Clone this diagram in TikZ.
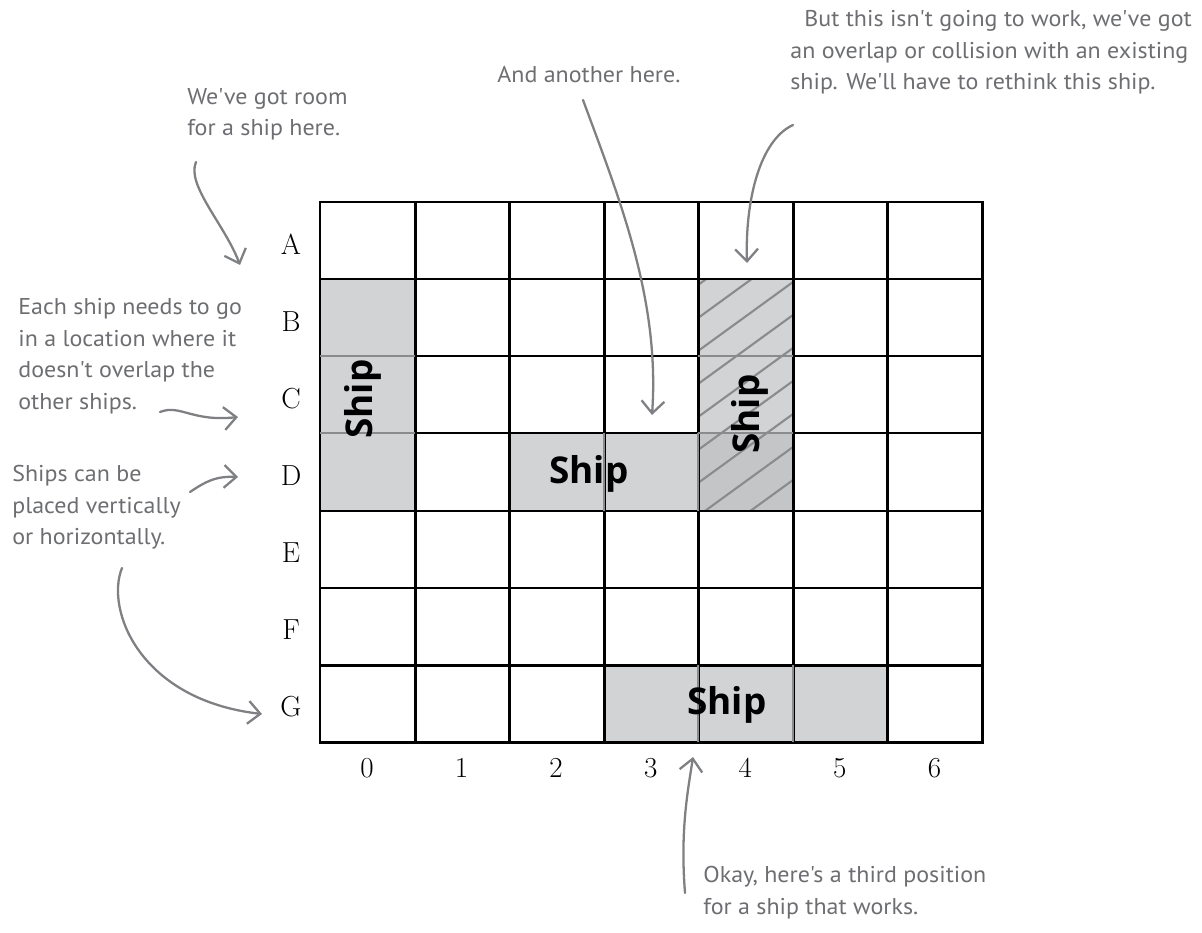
\documentclass[tikz,border=0pt]{standalone}
\usepackage{fontspec}
\newfontfamily\notefont[FakeStretch=1.05]{PT Sans}
\newfontfamily\shipfont{Open Sans}
\usetikzlibrary{arrows.meta}
\definecolor{notegray}{HTML}{6D6E71}
\definecolor{arrowgray}{HTML}{7F8083}
\definecolor{shipgray}{HTML}{D1D3D4}
\definecolor{overlapgray}{HTML}{C4C5C7}
\definecolor{linegray}{HTML}{8A8B8D}
\tikzset{
  gridline/.style={line width=1.7pt, line cap=rect},
  shipline/.style={draw=linegray, line width=1.6pt},
  hatch/.style={draw=linegray, line width=1.2pt},
  rowlabel/.style={font=\fontsize{16.5}{20}\selectfont},
  shiplabel/.style={font=\shipfont\bfseries\fontsize{21}{24}\selectfont},
  note/.style={text=notegray, font=\notefont\fontsize{13}{18}\selectfont, align=left, anchor=north west, inner sep=0pt},
  notearrow/.style={draw=arrowgray, line width=1.3pt, line cap=round, -{Straight Barb[length=7pt,width=13pt,line width=1.3pt]}}
}
\begin{document}
\begin{tikzpicture}[x=0.02cm,y=-0.02cm]
    \useasboundingbox (0,0) rectangle (1202,932);

    % ships
    \path [fill=shipgray] (320,279) rectangle (415,511);
    \path [fill=shipgray] (509,433) rectangle (698,511);
    \path [fill=shipgray] (698,279) rectangle (793,433);
    \path [fill=overlapgray] (698,433) rectangle (793,511);
    \path [fill=shipgray] (604,665) rectangle (887,742);
    \begin{scope}
        \clip (698,279) rectangle (793,511);
        \foreach \k in {-1,...,9}
            \draw [hatch] (698,318+33*\k) -- ++(95,-69);
    \end{scope}

    % board
    \foreach \x in {320,415,509,604,698,793,887,982}
        \draw [gridline] (\x,202) -- (\x,742);
    \foreach \y in {202,279,356,433,511,588,665,742}
        \draw [gridline] (320,\y) -- (982,\y);
    \draw [shipline] (320,356) -- (415,356) (320,433) -- (415,433);
    \draw [shipline] (604,433) -- (604,511) (698,433) -- (698,511);
    \draw [shipline] (698,356) -- (793,356) (698,433) -- (793,433);
    \draw [shipline] (698,665) -- (698,742) (793,665) -- (793,742);

    \foreach \r [count=\j from 0] in {A,B,C,D,E,F,G}
        \node [rowlabel] (row\r) at (291,244+77.14*\j) {\r};
    \foreach \c in {0,...,6}
        \node [rowlabel] (col\c) at (367+94.57*\c,768) {\c};

    \node [shiplabel, rotate=90] (shipB0) at (363,399) {Ship};
    \node [shiplabel] (shipD2) at (589,474) {Ship};
    \node [shiplabel, rotate=90] (shipB4) at (750,414) {Ship};
    \node [shiplabel] (shipG3) at (727,705) {Ship};

    % notes
    \node [note] (roomNote) at (187,88) {We've got room\\for a ship here.};
    \node [note] (anotherNote) at (497,66) {And another here.};
    \node [note] (clashNote) at (790,10) {\hspace*{8pt}But this isn't going to work, we've got\\an overlap or collision with an existing\\ship. We'll have to rethink this ship.};
    \node [note] (eachNote) at (18,298) {Each ship needs to go\\in a location where it\\doesn't overlap the\\other ships.};
    \node [note] (placeNote) at (12,465) {Ships can be\\placed vertically\\or horizontally.};
    \node [note] (thirdNote) at (703,866) {Okay, here's a third position\\for a ship that works.};

    \coordinate (roomTail) at (196,162);
    \coordinate (roomTip) at (240,265);
    \coordinate (anotherTail) at (583,100);
    \coordinate (anotherTip) at (652,415);
    \coordinate (clashTail) at (793,125);
    \coordinate (clashTip) at (747,263);
    \coordinate (eachTail) at (160,412);
    \coordinate (eachTip) at (238,417);
    \coordinate (placeTail) at (190,492);
    \coordinate (placeTip) at (238,477);
    \coordinate (horizTail) at (122,568);
    \coordinate (horizTip) at (262,714);
    \coordinate (thirdTail) at (685,893);
    \coordinate (thirdTip) at (693,757);

    \draw [notearrow] (roomTail) .. controls (186,185) and (225,225) .. (roomTip);
    \draw [notearrow] (anotherTail) .. controls (620,200) and (660,300) .. (anotherTip);
    \draw [notearrow] (clashTail) .. controls (760,140) and (745,200) .. (clashTip);
    \draw [notearrow] (eachTail) .. controls (180,404) and (192,422) .. (eachTip);
    \draw [notearrow] (placeTail) .. controls (205,482) and (215,476) .. (placeTip);
    \draw [notearrow] (horizTail) .. controls (105,610) and (140,700) .. (horizTip);
    \draw [notearrow] (thirdTail) .. controls (680,830) and (688,790) .. (thirdTip);
\end{tikzpicture}
\end{document}
